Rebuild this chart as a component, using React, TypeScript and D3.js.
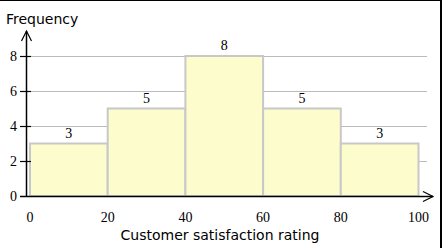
import React, { useEffect, useRef } from 'react';
import * as d3 from 'd3';

const binStarts: number[] = [0, 20, 40, 60, 80];
const binWidth = 20;
const frequencies: number[] = [3, 5, 8, 5, 3];
const xTicks: number[] = [0, 20, 40, 60, 80, 100];
const yTicks: number[] = [0, 2, 4, 6, 8];

const SERIF = "'Liberation Serif', 'Times New Roman', Times, serif";
const SANS = "'DejaVu Sans', Verdana, sans-serif";

const App: React.FC = () => {
  const ref = useRef<SVGSVGElement | null>(null);

  useEffect(() => {
    if (!ref.current) return;
    const W = 444;
    const H = 248;
    const svg = d3.select(ref.current);
    svg.selectAll('*').remove();
    svg.attr('width', W).attr('height', H);

    const x = d3.scaleLinear().domain([0, 100]).range([30, 418.5]);
    const y = d3.scaleLinear().domain([0, 8]).range([196, 56]);
    const axisX = 26;

    // frame (partly outside the picture)
    svg
      .append('rect')
      .attr('x', -10)
      .attr('y', 0)
      .attr('width', 451)
      .attr('height', 300)
      .attr('fill', 'none')
      .attr('stroke', '#000')
      .attr('stroke-width', 2);

    // gridlines
    svg
      .selectAll('.grid')
      .data(yTicks.filter((t) => t > 0))
      .enter()
      .append('line')
      .attr('x1', axisX)
      .attr('x2', 427)
      .attr('y1', (d) => Math.round(y(d)) + 0.5)
      .attr('y2', (d) => Math.round(y(d)) + 0.5)
      .attr('stroke', '#bbbbbb')
      .attr('stroke-width', 1);

    // bars
    svg
      .selectAll('.bar')
      .data(binStarts)
      .enter()
      .append('rect')
      .attr('x', (d) => x(d))
      .attr('y', (d, i) => y(frequencies[i]))
      .attr('width', (d) => x(d + binWidth) - x(d))
      .attr('height', (d, i) => y(0) - y(frequencies[i]))
      .attr('fill', '#fcfccc')
      .attr('stroke', '#c8c8c8')
      .attr('stroke-width', 2);

    // value labels
    svg
      .selectAll('.val')
      .data(binStarts)
      .enter()
      .append('text')
      .text((d, i) => String(frequencies[i]))
      .attr('x', (d) => x(d + binWidth / 2))
      .attr('y', (d, i) => y(frequencies[i]) - 6)
      .attr('text-anchor', 'middle')
      .style('font-family', SERIF)
      .style('font-size', '14px')
      .attr('fill', '#000');

    // y axis
    svg
      .append('line')
      .attr('x1', axisX + 0.5)
      .attr('x2', axisX + 0.5)
      .attr('y1', y(0))
      .attr('y2', 31)
      .attr('stroke', '#000')
      .attr('stroke-width', 1.5);
    svg
      .append('path')
      .attr('d', `M${axisX - 4.5},41 L${axisX + 0.5},31 L${axisX + 5.5},41`)
      .attr('fill', 'none')
      .attr('stroke', '#000')
      .attr('stroke-width', 1.2);

    svg
      .selectAll('.ytick')
      .data(yTicks.filter((t) => t > 0))
      .enter()
      .append('line')
      .attr('x1', 20)
      .attr('x2', 31)
      .attr('y1', (d) => Math.round(y(d)) + 0.5)
      .attr('y2', (d) => Math.round(y(d)) + 0.5)
      .attr('stroke', '#000')
      .attr('stroke-width', 1.2);

    svg
      .selectAll('.ylab')
      .data(yTicks)
      .enter()
      .append('text')
      .text((d) => String(d))
      .attr('x', 17)
      .attr('y', (d) => y(d) + 4.5)
      .attr('text-anchor', 'end')
      .style('font-family', SERIF)
      .style('font-size', '14px')
      .attr('fill', '#000');

    // x axis
    svg
      .append('line')
      .attr('x1', 20)
      .attr('x2', 433)
      .attr('y1', y(0) + 0.5)
      .attr('y2', y(0) + 0.5)
      .attr('stroke', '#000')
      .attr('stroke-width', 1.5);
    svg
      .append('path')
      .attr('d', `M423,${y(0) - 4.5} L433,${y(0) + 0.5} L423,${y(0) + 5.5}`)
      .attr('fill', 'none')
      .attr('stroke', '#000')
      .attr('stroke-width', 1.2);

    svg
      .selectAll('.xlab')
      .data(xTicks)
      .enter()
      .append('text')
      .text((d) => String(d))
      .attr('x', (d) => x(d))
      .attr('y', 222)
      .attr('text-anchor', 'middle')
      .style('font-family', SERIF)
      .style('font-size', '14px')
      .attr('fill', '#000');

    // axis titles
    svg
      .append('text')
      .text('Frequency')
      .attr('x', 6)
      .attr('y', 24)
      .style('font-family', SANS)
      .style('font-size', '14px')
      .attr('fill', '#000');

    svg
      .append('text')
      .text('Customer satisfaction rating')
      .attr('x', 220)
      .attr('y', 240)
      .attr('text-anchor', 'middle')
      .style('font-family', SANS)
      .style('font-size', '14px')
      .attr('fill', '#000');
  }, []);

  return (
    <svg
      ref={ref}
      style={{ position: 'absolute', left: 0, top: 0, display: 'block' }}
    ></svg>
  );
};

export default App;
